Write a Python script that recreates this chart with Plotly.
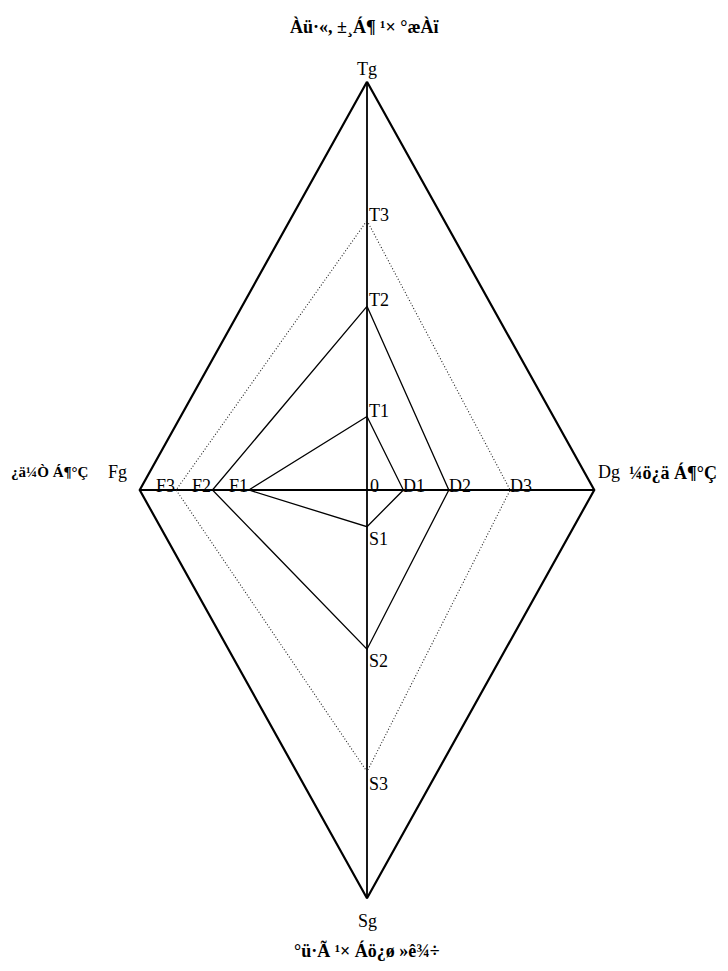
import plotly.graph_objects as go

# values read along each axis (Tg, Dg, Sg, Fg = outer diamond)
levels = ["1", "2", "3", "g"]
t_vals = [1.8, 4.5, 6.6, 10]
d_vals = [1.6, 3.6, 6.3, 10]
s_vals = [0.9, 3.9, 6.9, 10]
f_vals = [5.2, 6.8, 8.4, 10]

title_top = "Àü·«, ±¸Á¶ ¹× °æÀï"
title_bottom = "°ü·Ã ¹× Áö¿ø »ê¾÷"
title_left = "¿ä¼Ò Á¶°Ç"
title_right = "¼ö¿ä Á¶°Ç"

line_styles = [
    dict(color="black", width=1.3, dash="solid"),
    dict(color="black", width=1.3, dash="solid"),
    dict(color="#222222", width=1.1, dash="1px,2px"),
    dict(color="black", width=2.2, dash="solid"),
]

FONT = "Liberation Serif, Times New Roman, serif"

fig = go.Figure()

# axes
fig.add_trace(go.Scatter(x=[0, 0], y=[t_vals[-1], -s_vals[-1]], mode="lines",
                         line=dict(color="black", width=1.8), hoverinfo="skip"))
fig.add_trace(go.Scatter(x=[-f_vals[-1], d_vals[-1]], y=[0, 0], mode="lines",
                         line=dict(color="black", width=1.8), hoverinfo="skip"))

# diamonds
for i in range(len(levels)):
    xs = [0, d_vals[i], 0, -f_vals[i], 0]
    ys = [t_vals[i], 0, -s_vals[i], 0, t_vals[i]]
    fig.add_trace(go.Scatter(x=xs, y=ys, mode="lines", line=line_styles[i],
                             hoverinfo="skip"))

ann = []
lab_font = dict(family=FONT, size=18, color="black")
for i in range(3):
    ann.append(dict(x=0, y=t_vals[i], text="T" + levels[i], xanchor="left", yanchor="middle",
                    xshift=0, yshift=6, font=lab_font))
    ann.append(dict(x=0, y=-s_vals[i], text="S" + levels[i], xanchor="left", yanchor="top",
                    xshift=0, yshift=0, font=lab_font))
    ann.append(dict(x=d_vals[i], y=0, text="D" + levels[i], xanchor="left", yanchor="middle",
                    xshift=-2, yshift=4, font=lab_font))
    ann.append(dict(x=-f_vals[i], y=0, text="F" + levels[i], xanchor="right", yanchor="middle",
                    xshift=1, yshift=4, font=lab_font))
ann.append(dict(x=0, y=0, text="0", xanchor="left", yanchor="middle",
                xshift=1, yshift=4, font=lab_font))

# outer vertex names
ann.append(dict(x=0, y=t_vals[-1], text="Tg", xanchor="center", yanchor="bottom",
                yshift=1, font=lab_font))
ann.append(dict(x=0, y=-s_vals[-1], text="Sg", xanchor="center", yanchor="top",
                yshift=-11, font=lab_font))
ann.append(dict(x=-f_vals[-1], y=0, text="Fg", xanchor="right",
                yanchor="middle", xshift=-11, yshift=18, font=lab_font))
ann.append(dict(x=-f_vals[-1], y=0, text="<b>" + title_left + "</b>", xanchor="left",
                yanchor="middle", xshift=-131, yshift=18,
                font=dict(family=FONT, size=15, color="black")))
ann.append(dict(x=d_vals[-1], y=0, text="Dg", xanchor="left",
                yanchor="middle", xshift=2, yshift=18, font=lab_font))
ann.append(dict(x=d_vals[-1], y=0, text="<b>" + title_right + "</b>", xanchor="left",
                yanchor="middle", xshift=33, yshift=18,
                font=dict(family=FONT, size=18, color="black")))

# titles
ann.append(dict(x=0, y=1, yref="paper", text="<b>" + title_top + "</b>", xanchor="center",
                yanchor="middle", xshift=-3, yshift=15, font=lab_font))
ann.append(dict(x=0, y=-s_vals[-1], text="<b>" + title_bottom + "</b>", xanchor="center",
                yanchor="top", yshift=-40, font=lab_font))

for a in ann:
    a["showarrow"] = False

fig.update_layout(
    width=728, height=971,
    margin=dict(l=109, r=119, t=33, b=40),
    plot_bgcolor="white", paper_bgcolor="white",
    showlegend=False,
    font=dict(family=FONT, color="black"),
    xaxis=dict(range=[-11, 11], visible=False, fixedrange=True),
    yaxis=dict(range=[-11, 11], visible=False, fixedrange=True),
    annotations=ann,
)

fig.write_html("out.html")
